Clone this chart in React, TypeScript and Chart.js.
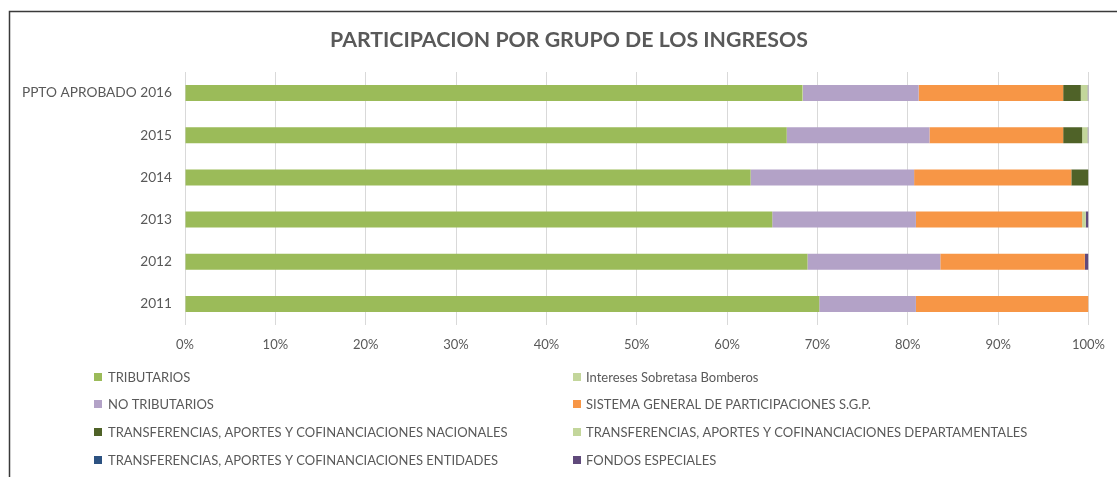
import React, { useEffect, useRef } from "react";
import { Chart, registerables } from "chart.js";

Chart.register(...registerables);

const titleText = "PARTICIPACION POR GRUPO DE LOS INGRESOS";
const categories = ["PPTO APROBADO 2016", "2015", "2014", "2013", "2012", "2011"];
const seriesNames = [
  "TRIBUTARIOS",
  "Intereses Sobretasa Bomberos",
  "NO TRIBUTARIOS",
  "SISTEMA GENERAL DE PARTICIPACIONES S.G.P.",
  "TRANSFERENCIAS, APORTES Y COFINANCIACIONES NACIONALES",
  "TRANSFERENCIAS, APORTES Y COFINANCIACIONES DEPARTAMENTALES",
  "TRANSFERENCIAS, APORTES Y COFINANCIACIONES ENTIDADES",
  "FONDOS ESPECIALES",
];
const seriesColors = ["#9BBB59", "#C3D69B", "#B3A2C7", "#F79646", "#4F6228", "#C3D69B", "#2C5281", "#604A7B"];

const tributarios = [68.3, 66.6, 62.6, 65.0, 68.9, 70.2];
const interesesBomberos = [0.1, 0, 0, 0, 0, 0];
const noTributarios = [12.8, 15.8, 18.1, 15.9, 14.7, 10.7];
const sgp = [16.0, 14.8, 17.4, 18.4, 16.0, 19.1];
const nacionales = [1.95, 2.1, 1.9, 0, 0, 0];
const departamentales = [0.75, 0.6, 0, 0.4, 0, 0];
const entidades = [0, 0, 0, 0, 0, 0];
const fondos = [0.1, 0.1, 0, 0.3, 0.4, 0];
const xTickLabels = ["0%", "10%", "20%", "30%", "40%", "50%", "60%", "70%", "80%", "90%", "100%"];

const seriesValues = [tributarios, interesesBomberos, noTributarios, sgp, nacionales, departamentales, entidades, fondos];

const FONT = "Lato, 'Open Sans', sans-serif";
const TEXT = "#595959";

const decorPlugin = {
  id: "decor",
  beforeDraw(chart: any) {
    const ctx = chart.ctx;
    ctx.save();
    ctx.strokeStyle = "#3a3a3a";
    ctx.lineWidth = 1.5;
    ctx.beginPath();
    ctx.moveTo(9.5, 500);
    ctx.lineTo(9.5, 11.5);
    ctx.lineTo(1200, 11.5);
    ctx.stroke();
    ctx.restore();
  },
  afterDraw(chart: any) {
    const ctx = chart.ctx;
    ctx.save();
    ctx.fillStyle = TEXT;
    ctx.font = `bold 21.3px ${FONT}`;
    ctx.textAlign = "center";
    ctx.textBaseline = "middle";
    ctx.fillText(titleText, 569, 40);

    ctx.font = `13px ${FONT}`;
    ctx.textAlign = "left";
    const rowsY = [377, 404, 432, 460];
    chart.data.datasets.forEach((ds: any, i: number) => {
      const col = i % 2;
      const row = Math.floor(i / 2);
      const mx = col === 0 ? 94 : 573;
      const tx = col === 0 ? 108 : 586;
      const y = rowsY[row];
      ctx.fillStyle = ds.backgroundColor;
      ctx.fillRect(mx, y - 4, 8, 8);
      ctx.fillStyle = TEXT;
      ctx.fillText(ds.label, tx, y + 0.5);
    });
    ctx.restore();
  },
};

export default function App() {
  const ref = useRef<HTMLCanvasElement | null>(null);
  useEffect(() => {
    if (!ref.current) return;
    const chart = new Chart(ref.current, {
      type: "bar",
      data: {
        labels: categories,
        datasets: seriesNames.map((name, i) => ({
          label: name,
          data: seriesValues[i],
          backgroundColor: seriesColors[i],
          borderWidth: 0,
          barPercentage: 0.38,
          categoryPercentage: 1,
        })),
      },
      options: {
        indexAxis: "y",
        animation: false,
        responsive: false,
        devicePixelRatio: 1,
        layout: { padding: { left: 0, right: 26, top: 72, bottom: 0 } },
        plugins: {
          legend: { display: false },
          title: { display: false },
          tooltip: { enabled: false },
        },
        scales: {
          x: {
            stacked: true,
            min: 0,
            max: 100,
            afterFit: (s: any) => {
              s.height = 477 - 325;
            },
            grid: { color: "#d9d9d9", drawTicks: false, lineWidth: 1 },
            border: { display: false },
            ticks: {
              stepSize: 10,
              padding: 12,
              color: TEXT,
              font: { family: FONT, size: 13 },
              callback: (v: any) => xTickLabels[Math.round(Number(v) / 10)],
            },
          },
          y: {
            stacked: true,
            afterFit: (s: any) => {
              s.width = 185;
            },
            grid: { display: false, drawTicks: false },
            border: { display: false },
            ticks: {
              padding: 13,
              color: TEXT,
              font: { family: FONT, size: 13.7 },
            },
          },
        },
      } as any,
      plugins: [decorPlugin],
    });
    return () => chart.destroy();
  }, []);
  return (
    <div style={{ position: "absolute", left: 0, top: 0, width: 1117, height: 477, background: "#fff" }}>
      <canvas ref={ref} width={1117} height={477} />
    </div>
  );
}
